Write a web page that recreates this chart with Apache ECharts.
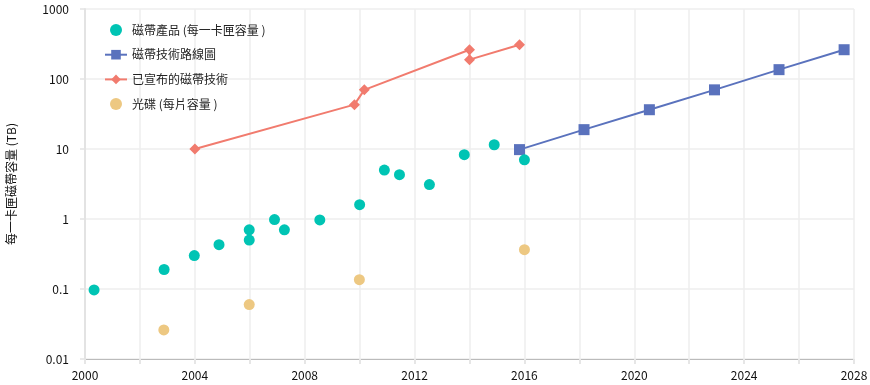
<!DOCTYPE html>
<html><head><meta charset="utf-8">
<script src="https://cdn.jsdelivr.net/npm/echarts@6/dist/echarts.min.js"></script>
<style>html,body{margin:0;padding:0;background:#fff}#c{width:870px;height:385px}</style>
</head><body><div id="c"></div>
<script>
const xTicks = [2000, 2004, 2008, 2012, 2016, 2020, 2024, 2028];
const yTicks = ['0.01', '0.1', '1', '10', '100', '1000'];
const seriesNames = ['磁帶產品 (每一卡匣容量 )', '磁帶技術路線圖', '已宣布的磁帶技術', '光碟 (每片容量 )'];

const tapeYears = [2000.33, 2002.88, 2003.98, 2004.88, 2005.98, 2005.98, 2006.9, 2007.26, 2008.55, 2010.0, 2010.9, 2011.45, 2012.54, 2013.81, 2014.9, 2016.0];
const tapeValues = [0.097, 0.19, 0.3, 0.43, 0.7, 0.5, 0.98, 0.7, 0.97, 1.6, 5.0, 4.3, 3.1, 8.3, 11.5, 7.0];

const roadmapYears = [2015.82, 2018.17, 2020.55, 2022.92, 2025.27, 2027.64];
const roadmapValues = [9.8, 18.9, 36.4, 70, 136, 262];

const announcedYears = [2004.0, 2009.81, 2010.17, 2014.0, 2014.0, 2015.82];
const announcedValues = [10, 43, 70, 262, 189, 309];

const opticalYears = [2002.87, 2005.98, 2009.99, 2016.0];
const opticalValues = [0.026, 0.06, 0.136, 0.364];

const zip = (a, b) => a.map((v, i) => [v, b[i]]);
const FONT = '"Noto Sans CJK TC", "Noto Sans", sans-serif';

const chart = echarts.init(document.getElementById('c'), null, {renderer: 'canvas'});
chart.setOption({
  animation: false,
  textStyle: {fontFamily: FONT},
  grid: {left: 85, right: 16, top: 9, bottom: 26, containLabel: false, outerBoundsMode: 'none'},
  legend: {
    orient: 'vertical', left: 99, top: 19, itemGap: 12.7, itemWidth: 22, itemHeight: 12,
    textStyle: {fontFamily: FONT, fontSize: 12, color: '#222'},
    data: [
      {name: seriesNames[0], icon: 'circle'},
      {name: seriesNames[1]},
      {name: seriesNames[2]},
      {name: seriesNames[3], icon: 'circle'}
    ]
  },
  xAxis: {
    type: 'value', min: 2000, max: 2028, interval: 2,
    axisLine: {show: true, lineStyle: {color: '#bbbbbb', width: 1}},
    axisTick: {show: true, length: 5, lineStyle: {color: '#e6e6e6', width: 2}},
    axisLabel: {
      fontFamily: FONT, fontSize: 12, color: '#111', margin: 10,
      formatter: v => xTicks.includes(v) ? String(v) : ''
    },
    splitLine: {show: true, lineStyle: {color: '#eeeeee', width: 1.5}}
  },
  yAxis: {
    type: 'log', logBase: 10, min: 0.01, max: 1000,
    name: '每一卡匣磁帶容量 (TB)', nameLocation: 'middle', nameGap: 68, nameRotate: 90,
    nameTextStyle: {fontFamily: FONT, fontSize: 12, color: '#111'},
    axisLine: {show: true, lineStyle: {color: '#e3e3e3', width: 2}},
    axisTick: {show: true, length: 5, lineStyle: {color: '#e3e3e3', width: 1.5}},
    axisLabel: {
      fontFamily: FONT, fontSize: 12, color: '#111', margin: 16,
      formatter: v => { const s = yTicks.find(t => Math.abs(Math.log10(+t) - Math.log10(v)) < 1e-6); return s || ''; }
    },
    splitLine: {show: true, lineStyle: {color: '#eeeeee', width: 1.5}}
  },
  series: [
    {
      name: seriesNames[0], type: 'scatter', data: zip(tapeYears, tapeValues),
      symbol: 'circle', symbolSize: 11, itemStyle: {color: '#00c4b4', opacity: 1}, z: 3
    },
    {
      name: seriesNames[1], type: 'line', data: zip(roadmapYears, roadmapValues),
      symbol: 'rect', symbolSize: 11, showAllSymbol: true,
      lineStyle: {color: '#5a72bd', width: 2}, itemStyle: {color: '#5a72bd'}, z: 2
    },
    {
      name: seriesNames[2], type: 'line', data: zip(announcedYears, announcedValues),
      symbol: 'diamond', symbolSize: 11, showAllSymbol: true,
      lineStyle: {color: '#f17b6e', width: 2}, itemStyle: {color: '#f17b6e'}, z: 2
    },
    {
      name: seriesNames[3], type: 'scatter', data: zip(opticalYears, opticalValues),
      symbol: 'circle', symbolSize: 11, itemStyle: {color: '#edc882', opacity: 1}, z: 3
    }
  ]
});
</script></body></html>
